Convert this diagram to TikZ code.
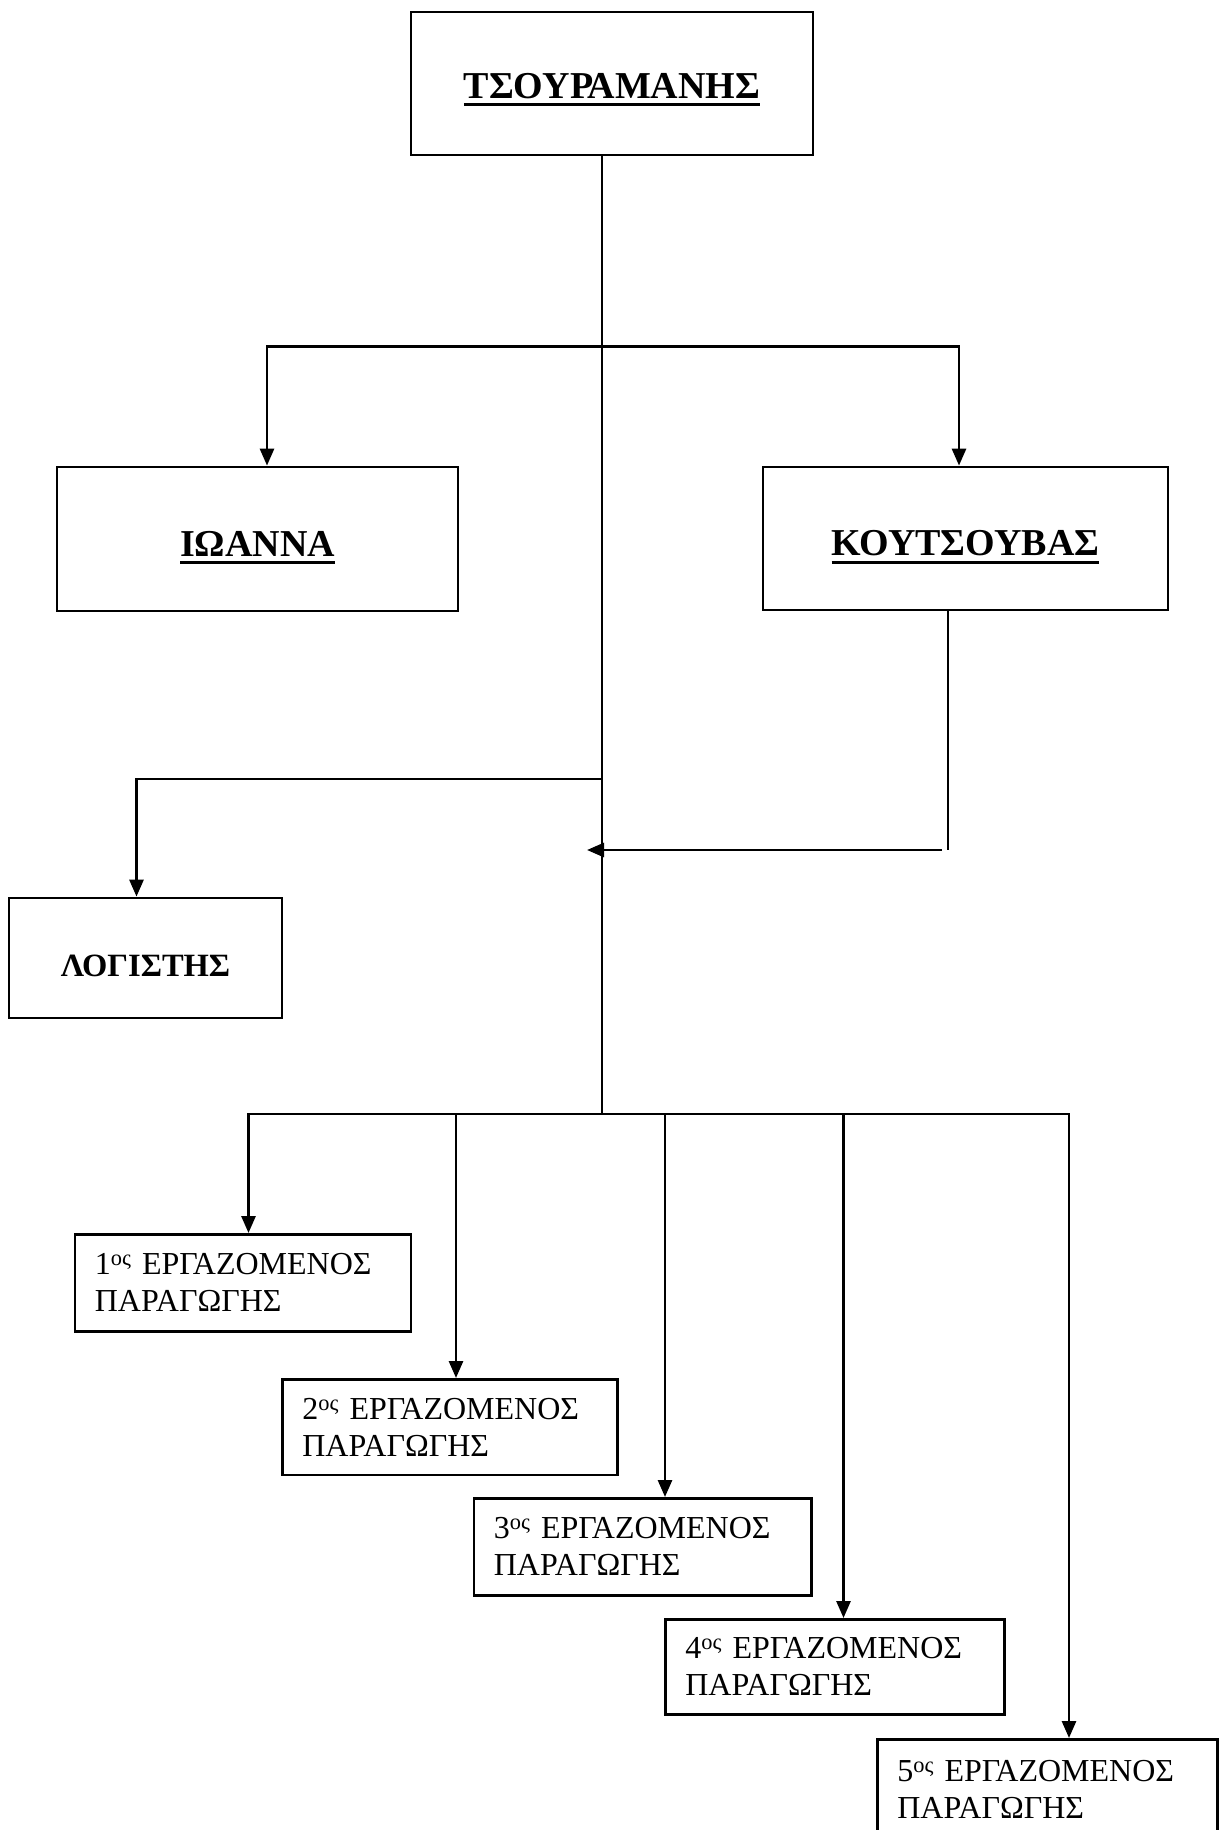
\documentclass[tikz,border=0pt]{standalone}
\usepackage{fontspec}
\setmainfont{Liberation Serif}
\usetikzlibrary{arrows.meta}
\newcommand\ulbold[1]{\setbox0=\hbox{#1}\rlap{\rule[-8pt]{\wd0}{3pt}}\box0}
\begin{document}
\begin{tikzpicture}[x=1pt,y=-1pt,line width=2.8pt,
  titlebox/.style={draw,line width=2.8pt,inner sep=0pt,text depth=0pt,
    font=\fontsize{38}{43}\selectfont\bfseries},
  worker/.style={draw,line width=2.6pt,anchor=north west,align=left,
    inner xsep=20pt,inner ysep=0pt,font=\fontsize{32}{37}\selectfont},
  arr/.style={-{Triangle[length=17pt,width=14pt]}}]
\useasboundingbox (0,0) rectangle (1218,1830);
\fill[white] (0,0) rectangle (1218,1830);

% main boxes
\node[titlebox,minimum width=402pt,minimum height=143pt,text height=29.5pt] (top) at (612,83.5) {\ulbold{ΤΣΟΥΡΑΜΑΝΗΣ}};
\node[titlebox,minimum width=401pt,minimum height=144pt,text height=34.5pt] (ioanna) at (257.5,539) {\ulbold{ΙΩΑΝΝΑ}};
\node[titlebox,minimum width=405pt,minimum height=143pt,text height=34.5pt] (kout) at (965.5,538.5) {\ulbold{ΚΟΥΤΣΟΥΒΑΣ}};
\node[titlebox,minimum width=273pt,minimum height=120pt,text height=37pt,
  font=\fontsize{32.5}{38}\selectfont\bfseries] (logist) at (145.5,958) {ΛΟΓΙΣΤΗΣ};

% workers
\node[worker,text width=296pt,minimum height=97pt] (w1) at (73.5,1233) {1\textsuperscript{ος} ΕΡΓΑΖΟΜΕΝΟΣ\\ΠΑΡΑΓΩΓΗΣ};
\node[worker,text width=295pt,minimum height=95.5pt] (w2) at (281,1378) {2\textsuperscript{ος} ΕΡΓΑΖΟΜΕΝΟΣ\\ΠΑΡΑΓΩΓΗΣ};
\node[worker,text width=297.5pt,minimum height=97pt] (w3) at (472.5,1497) {3\textsuperscript{ος} ΕΡΓΑΖΟΜΕΝΟΣ\\ΠΑΡΑΓΩΓΗΣ};
\node[worker,text width=299pt,minimum height=95pt] (w4) at (664,1618) {4\textsuperscript{ος} ΕΡΓΑΖΟΜΕΝΟΣ\\ΠΑΡΑΓΩΓΗΣ};
\node[worker,text width=300pt,minimum height=100pt] (w5) at (876,1738) {5\textsuperscript{ος} ΕΡΓΑΖΟΜΕΝΟΣ\\ΠΑΡΑΓΩΓΗΣ};

% junction coordinates
\coordinate (aM) at (602,346.5);
\coordinate (aL) at (267,346.5);
\coordinate (aR) at (959,346.5);
\coordinate (lj) at (602,779);
\coordinate (lc) at (136.5,779);
\coordinate (kx) at (948,850);
\coordinate (kin) at (587,850);
\coordinate (jb) at (602,1114);
\coordinate (b1) at (248.5,1114);
\coordinate (b2) at (456,1114);
\coordinate (b3) at (665,1114);
\coordinate (b4) at (843.5,1114);
\coordinate (b5) at (1069,1114);

% connectors
\draw (top.south -| jb) -- (jb);
\draw[arr] (aM) -| (aL |- ioanna.north);
\draw[arr] (aM) -| (aR |- kout.north);
\draw[arr] (lj) -| (lc |- logist.north);
\draw (kout.south -| kx) -- (kx);
\draw[arr] ([xshift=-6pt]kx) -- (kin);
\draw[arr] (jb) -| (b1 |- w1.north);
\draw[arr] (jb) -| (b5 |- w5.north);
\draw[arr] (b2) -- (b2 |- w2.north);
\draw[arr] (b3) -- (b3 |- w3.north);
\draw[arr] (b4) -- (b4 |- w4.north);
\end{tikzpicture}
\end{document}
